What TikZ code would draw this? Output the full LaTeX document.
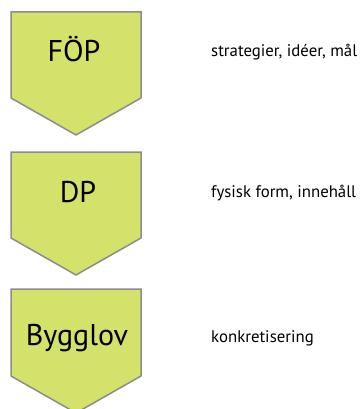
\documentclass[tikz,border=0pt]{standalone}
\usepackage{fontspec}
\setmainfont{PT Sans}
\definecolor{chevfill}{RGB}{212,225,106}
\definecolor{chevline}{RGB}{140,140,140}
\begin{document}
\begin{tikzpicture}[x=1pt,y=-1pt,
  chev/.style={fill=chevfill,draw=chevline,line width=1.5pt,line join=miter},
  big/.style={font=\fontsize{30}{30}\selectfont,anchor=base,inner sep=0pt},
  small/.style={font=\fontsize{16.8}{16.8}\selectfont,anchor=base west,inner sep=0pt}]
\useasboundingbox (0,0) rectangle (362,409);
\draw[chev] (11,12) -- (141,12) -- (141,98) -- (76,135) -- (11,98) -- cycle;
\draw[chev] (11,152) -- (141,152) -- (141,238) -- (76,275) -- (11,238) -- cycle;
\draw[chev] (11,289) -- (141,289) -- (141,376) -- (76,413) -- (11,376) -- cycle;
\node[big] (f) at (74,62) {FÖP};
\node[big] (d) at (78,202) {DP};
\node[big] (b) at (77,345) {Bygglov};
\node[small] (tf) at (211,57) {strategier, idéer, mål};
\node[small] (td) at (211,197) {fysisk form, innehåll};
\node[small] (tb) at (211,342) {konkretisering};
\end{tikzpicture}
\end{document}
